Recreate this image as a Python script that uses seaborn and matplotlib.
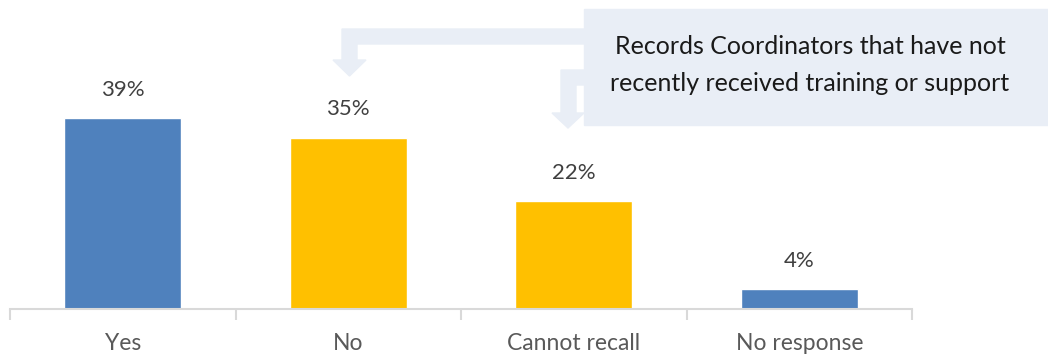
import matplotlib
matplotlib.use("Agg")
import matplotlib.pyplot as plt
import seaborn as sns
import pandas as pd
from matplotlib.patches import Polygon, Rectangle

categories = ["Yes", "No", "Cannot recall", "No response"]
values = [39, 35, 22, 4]
colors = ["#4F81BD", "#FFC000", "#FFC000", "#4F81BD"]
callout_text = "Records Coordinators that have not\nrecently received training or support"

sns.set_theme(style="white")
plt.rcParams['font.family'] = ['Lato', 'DejaVu Sans']

W, H = 1048, 356
fig = plt.figure(figsize=(W / 100, H / 100), dpi=100)
ax = fig.add_axes([10 / W, 1 - 309 / H, 902 / W, 309 / H])

df = pd.DataFrame({"cat": categories, "val": values})
sns.barplot(data=df, x="cat", y="val", hue="cat", palette=colors, legend=False,
            width=0.52, ax=ax, saturation=1)

ax.set_ylim(0, 309 / 4.9)
ax.set_xlim(-0.5, len(categories) - 0.5)
ax.set_xlabel("")
ax.set_ylabel("")
ax.set_yticks([])
for s in ["top", "left", "right"]:
    ax.spines[s].set_visible(False)
ax.spines["bottom"].set_color("#D9D9D9")
ax.spines["bottom"].set_linewidth(1.5)
ax.set_xticks([i - 0.5 for i in range(len(categories) + 1)], minor=True)
ax.tick_params(axis="x", which="minor", length=8, width=1.5, color="#D9D9D9", direction="out", bottom=True)
ax.tick_params(axis="x", which="major", length=0, pad=17, labelsize=16.5, labelcolor="#595959")

for i, v in enumerate(values):
    ax.text(i, v + 28 / 4.9, f"{v}%", ha="center", va="center", fontsize=16, color="#404040")

def P(x, y):
    return (x / W, 1 - y / H)

box_col = "#E9EEF6"
fig.patches.append(Rectangle(P(584, 125), (1048 - 584) / W, (125 - 9) / H,
                             transform=fig.transFigure, color=box_col, zorder=1))
arrow1 = [(584, 29), (342, 29), (342, 60), (333, 60), (349.5, 76), (366, 60),
          (357, 60), (357, 44), (584, 44)]
arrow2 = [(584, 70), (561, 70), (561, 113), (552, 113), (568, 128), (584, 113),
          (576, 113), (576, 85), (584, 85)]
for pts in (arrow1, arrow2):
    fig.patches.append(Polygon([P(x, y) for x, y in pts], closed=True,
                               transform=fig.transFigure, color=box_col, zorder=1))

fig.text(810 / W, 1 - 65 / H, callout_text, ha="center", va="center", fontsize=18,
         color="#1a1a1a", linespacing=1.75, zorder=3)

fig.savefig("out.png", dpi=100)
